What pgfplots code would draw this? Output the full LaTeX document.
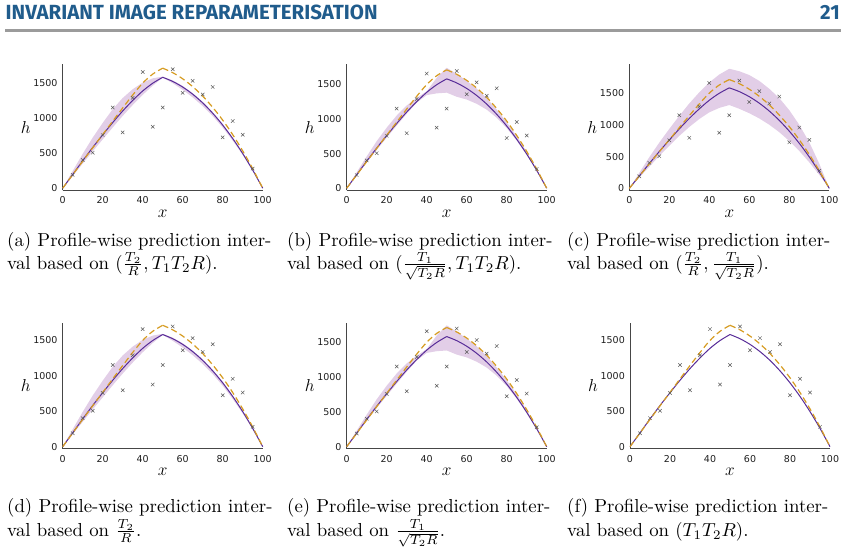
\documentclass[border=0pt]{standalone}
\usepackage{pgfplots}
\pgfplotsset{compat=1.18}
\usepackage{pgfplotstable}
\usepackage{fontspec}
\usepackage{graphicx}

\newfontfamily\tickfont{DejaVu Sans}
\newfontfamily\headfont{Fira Sans}

\definecolor{fitpurple}{RGB}{88,44,152}
\definecolor{bandpurple}{RGB}{226,206,231}
\definecolor{truegold}{RGB}{214,156,34}
\definecolor{obsgray}{RGB}{90,90,90}
\definecolor{headblue}{RGB}{32,92,140}
\definecolor{rulegray}{RGB}{155,155,155}
\definecolor{axisgray}{RGB}{70,70,70}
\definecolor{ticktext}{RGB}{30,30,30}

% fitted profile (maximum likelihood), split at the interface x = 50
\pgfplotstableread{
x h
0 0
5 195
10 390
15 580
20 760
25 935
30 1100
35 1250
40 1385
45 1495
50 1580
}\fitL
\pgfplotstableread{
x h
50 1580
55 1521
60 1441
65 1339
70 1215
75 1068
80 899
85 708
90 494
95 258
100 0
}\fitR
% true profile
\pgfplotstableread{
x h
0 0
5 192
10 384
15 575
20 765
25 955
30 1143
35 1327
40 1497
45 1625
50 1710
}\trueL
\pgfplotstableread{
x h
50 1710
55 1646
60 1558
65 1447
70 1312
75 1152
80 970
85 763
90 532
95 278
100 0
}\trueR
% noisy observations
\pgfplotstableread{
x h
5 190
10 402
15 506
20 757
25 1150
30 795
35 1287
40 1656
45 875
50 1150
55 1694
60 1358
65 1529
70 1335
75 1443
80 724
85 956
90 762
95 279
}\obs

% prediction intervals: upper bound from 0 to 100, then lower bound back to 0
\pgfplotstableread{
x h
0 0
5 245
10 490
15 720
20 930
25 1125
30 1285
35 1410
40 1505
45 1565
50 1590
55 1536
60 1456
65 1354
70 1230
75 1083
80 914
85 718
90 504
95 263
100 0
95 248
90 474
85 678
80 864
75 1028
70 1170
65 1294
60 1401
55 1496
50 1575
45 1460
40 1330
35 1185
30 1030
25 865
20 695
15 525
10 350
5 175
0 0
}\bandA
\pgfplotstableread{
x h
0 0
5 230
10 460
15 680
20 875
25 1050
30 1195
35 1305
40 1400
45 1595
50 1740
55 1651
60 1551
65 1439
70 1300
75 1138
80 954
85 753
90 524
95 273
100 0
95 252
90 482
85 688
80 869
75 1018
70 1135
65 1219
60 1281
55 1321
50 1380
45 1370
40 1345
35 1235
30 1075
25 905
20 730
15 555
10 370
5 185
0 0
}\bandB
\pgfplotstableread{
x h
0 0
5 245
10 490
15 720
20 935
25 1140
30 1335
35 1510
40 1665
45 1790
50 1880
55 1841
60 1781
65 1689
70 1565
75 1418
80 1229
85 998
90 724
95 388
100 0
95 213
90 409
85 588
80 744
75 883
70 1000
65 1099
60 1181
55 1251
50 1310
45 1265
40 1195
35 1090
30 965
25 825
20 670
15 510
10 340
5 170
0 0
}\bandC
\pgfplotstableread{
x h
0 0
5 245
10 490
15 720
20 930
25 1125
30 1285
35 1410
40 1505
45 1565
50 1590
55 1536
60 1456
65 1354
70 1230
75 1083
80 914
85 718
90 504
95 263
100 0
95 246
90 469
85 673
80 859
75 1023
70 1165
65 1289
60 1396
55 1491
50 1575
45 1460
40 1330
35 1185
30 1030
25 865
20 695
15 525
10 350
5 175
0 0
}\bandD

\newcommand\ticklab{\tickfont\fontsize{9.5}{11}\selectfont}

\pgfplotsset{
  panel/.style={
    scale only axis, width=200pt, height=126pt, anchor=south west,
    xmin=0, xmax=100, ymin=-30,
    axis lines=left,
    axis line style={-, draw=axisgray, line width=0.7pt},
    xtick={0,20,40,60,80,100}, xticklabels={0,20,40,60,80,100},
    ytick={0,500,1000,1500}, yticklabels={0,500,1000,1500},
    major tick length=0pt,
    tick label style={font=\ticklab, text=ticktext},
    xticklabel style={anchor=center, yshift=-10pt},
    yticklabel style={anchor=east, inner sep=0pt, xshift=-5pt},
    xlabel={$x$}, ylabel={$h$},
    label style={font=\LARGE},
    xlabel style={at={(axis description cs:0.5,-0.183)}, anchor=center},
    ylabel style={at={(axis description cs:-0.185,0.5)}, anchor=center, rotate=-90},
    clip=false,
  },
  band/.style={fill=bandpurple, draw=none},
  fitline/.style={fitpurple, line width=1.0pt, smooth, no marks},
  trueline/.style={truegold, line width=1.2pt, dash pattern=on 6pt off 3.5pt, smooth, no marks},
  obsmark/.style={only marks, mark=x, mark size=2.4pt, mark options={obsgray, line width=0.5pt}},
}

\newcommand\profile{%
  \addplot[fitline] table {\fitL};
  \addplot[fitline] table {\fitR};
  \addplot[trueline] table {\trueL};
  \addplot[trueline] table {\trueR};
  \addplot[obsmark] table {\obs};
}

\newcommand\capline[1]{\scalebox{1.88}{#1}}

\newlength\headw
\begin{document}
\settowidth\headw{\headfont\bfseries INVARIANT IMAGE REPARAMETERISATION}%
\pgfmathsetmacro\headscale{372/\headw}%
\begin{tikzpicture}[x=1pt,y=1pt]
\useasboundingbox (0,0) rectangle (846,555);

% running head
\node[anchor=base west, inner sep=0, text=headblue] at (5.5,535.5)
  {\scalebox{\headscale}{\headfont\bfseries INVARIANT IMAGE REPARAMETERISATION}};
\node[anchor=base east, inner sep=0, text=headblue] at (840,535.5)
  {\scalebox{\headscale}{\headfont\bfseries 21}};
\fill[rulegray] (5,522.5) rectangle (841,525.5);

% (a)
\begin{axis}[panel, at={(62.7pt,364.7pt)}, ymax=1765]
  \addplot[band] table {\bandA};
  \profile
\end{axis}
% (b)
\begin{axis}[panel, at={(346.7pt,364.7pt)}, ymax=1790]
  \addplot[band] table {\bandB};
  \profile
\end{axis}
% (c)
\begin{axis}[panel, at={(629.3pt,364.7pt)}, ymax=1950]
  \addplot[band] table {\bandC};
  \profile
\end{axis}
% (d)
\begin{axis}[panel, at={(62.7pt,106.2pt)}, ymax=1745]
  \addplot[band] table {\bandD};
  \profile
\end{axis}
% (e)
\begin{axis}[panel, at={(346.7pt,106.2pt)}, ymax=1777]
  \addplot[band] table {\bandB};
  \profile
\end{axis}
% (f)
\begin{axis}[panel, at={(630pt,106.2pt)}, ymax=1745]
  \profile
\end{axis}

% sub-captions
\begin{scope}[every node/.style={anchor=base west, inner sep=0}]
\node at (7,308.3)   {\capline{(a) Profile-wise prediction inter-}};
\node at (7,285.7)   {\capline{val based on $(\frac{T_2}{R}, T_1T_2R)$.}};
\node at (287,308.3) {\capline{(b) Profile-wise prediction inter-}};
\node at (287,285.7) {\capline{val based on $(\frac{T_1}{\sqrt{T_2R}}, T_1T_2R)$.}};
\node at (567,308.3) {\capline{(c) Profile-wise prediction inter-}};
\node at (567,285.7) {\capline{val based on $(\frac{T_2}{R}, \frac{T_1}{\sqrt{T_2R}})$.}};
\node at (7,42.2)    {\capline{(d) Profile-wise prediction inter-}};
\node at (7,18.5)    {\capline{val based on $\frac{T_2}{R}$.}};
\node at (287,42.2)  {\capline{(e) Profile-wise prediction inter-}};
\node at (287,18.5)  {\capline{val based on $\frac{T_1}{\sqrt{T_2R}}$.}};
\node at (567,42.2)  {\capline{(f) Profile-wise prediction inter-}};
\node at (567,18.5)  {\capline{val based on $(T_1T_2R)$.}};
\end{scope}
\end{tikzpicture}
\end{document}
